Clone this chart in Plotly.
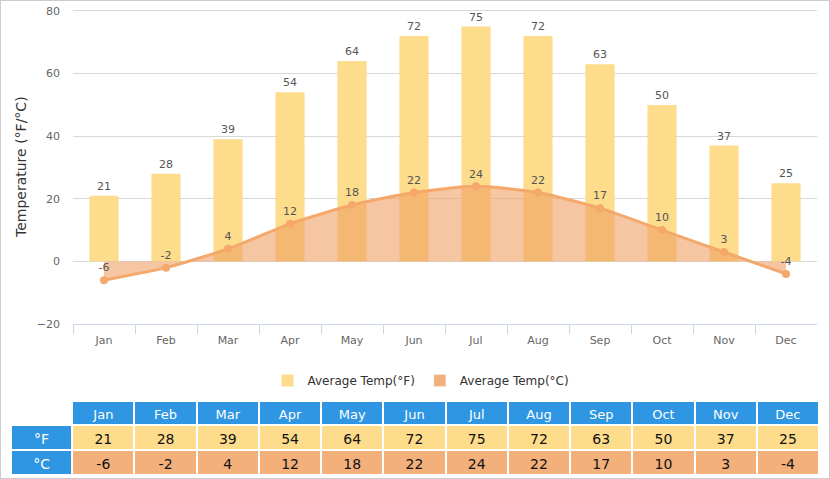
import plotly.graph_objects as go

months = ['Jan', 'Feb', 'Mar', 'Apr', 'May', 'Jun', 'Jul', 'Aug', 'Sep', 'Oct', 'Nov', 'Dec']
temp_f = [21, 28, 39, 54, 64, 72, 75, 72, 63, 50, 37, 25]
temp_c = [-6, -2, 4, 12, 18, 22, 24, 22, 17, 10, 3, -4]
y_ticks = [-20, 0, 20, 40, 60, 80]

W, H = 830, 479
YELLOW = '#fddc8b'
ORANGE = '#f3b07b'
LINE = '#f4a86c'
BLUE = '#2e96e2'


def px(x):
    return x / W


def py(y):
    return (H - y) / H


fig = go.Figure()

fig.add_trace(go.Bar(
    x=months, y=temp_f, name='Average Temp(°F)', width=0.47,
    marker=dict(color=YELLOW, line=dict(width=0)),
    text=temp_f, textposition='outside', cliponaxis=False,
    textfont=dict(size=11, color='#555555', family='DejaVu Sans'),
))

fig.add_trace(go.Scatter(
    x=months, y=temp_c, name='Average Temp(°C)', showlegend=False,
    mode='lines+markers+text', fill='tozeroy',
    fillcolor='rgba(240,160,100,0.6)',
    line=dict(color=LINE, width=3, shape='spline', smoothing=0.6),
    marker=dict(color=LINE, size=8),
    text=temp_c, textposition='top center', cliponaxis=False,
    textfont=dict(size=11, color='#555555', family='DejaVu Sans'),
))

# legend-only swatch for the °C series
fig.add_trace(go.Bar(x=[None], y=[None], name='Average Temp(°C)',
                     marker=dict(color=ORANGE)))

# data table under the chart
header_fill = ['white'] + [BLUE] * len(months)
cell_fill = [[BLUE, BLUE]] + [[YELLOW, ORANGE] for _ in months]
cell_vals = [['°F', '°C']] + [[f, c] for f, c in zip(temp_f, temp_c)]
cell_font_col = [['white', 'white']] + [['#111111', '#111111'] for _ in months]

fig.add_trace(go.Table(
    domain=dict(x=[px(11), px(819)], y=[py(478), py(401)]),
    columnwidth=[61] + [62] * len(months),
    header=dict(values=[''] + months, fill_color=header_fill,
                line=dict(color='white', width=2), align='center', height=24,
                font=dict(color='white', size=13, family='DejaVu Sans')),
    cells=dict(values=cell_vals, fill_color=cell_fill,
               line=dict(color='white', width=2), align='center', height=25,
               font=dict(color=cell_font_col, size=14, family='DejaVu Sans')),
))

fig.update_layout(
    width=W, height=H,
    margin=dict(l=0, r=0, t=0, b=0, autoexpand=False),
    paper_bgcolor='white', plot_bgcolor='white',
    font=dict(family='DejaVu Sans', color='#666666', size=11),
    bargap=0.53,
    legend=dict(orientation='h', x=px(421), xanchor='center', y=py(366),
                yanchor='top', font=dict(size=12, color='#333333'),
                itemclick=False),
    xaxis=dict(domain=[px(73), px(817)], type='category', automargin=False,
               showline=True, linecolor='#ccd6eb', linewidth=1,
               ticks='outside', tickson='boundaries', ticklen=9,
               tickcolor='#ccd6eb', showgrid=False, ticklabelstandoff=6,
               tickfont=dict(size=11, color='#666666')),
    # a little headroom above 80 so its grid line is not dropped at the edge
    yaxis=dict(domain=[py(324), py(9.4)], range=[-20, 80.5],
               automargin=False,
               tickvals=y_ticks, showgrid=True, gridcolor='#d8d8d8',
               zeroline=True, zerolinecolor='#d8d8d8', zerolinewidth=1,
               ticklabelstandoff=12,
               tickfont=dict(size=11, color='#666666'),
               title=dict(text='Temperature (°F/°C)', standoff=6,
                          font=dict(size=14, color='#333333'))),
    shapes=[dict(type='rect', xref='paper', yref='paper', x0=0, y0=0, x1=1, y1=1,
                 line=dict(color='#cccccc', width=2))],
)

# drop the default 8px body margin so the figure sits at the page corner
fig.write_html("out.html", config={'displayModeBar': False},
               post_script="document.body.style.margin='0';")
